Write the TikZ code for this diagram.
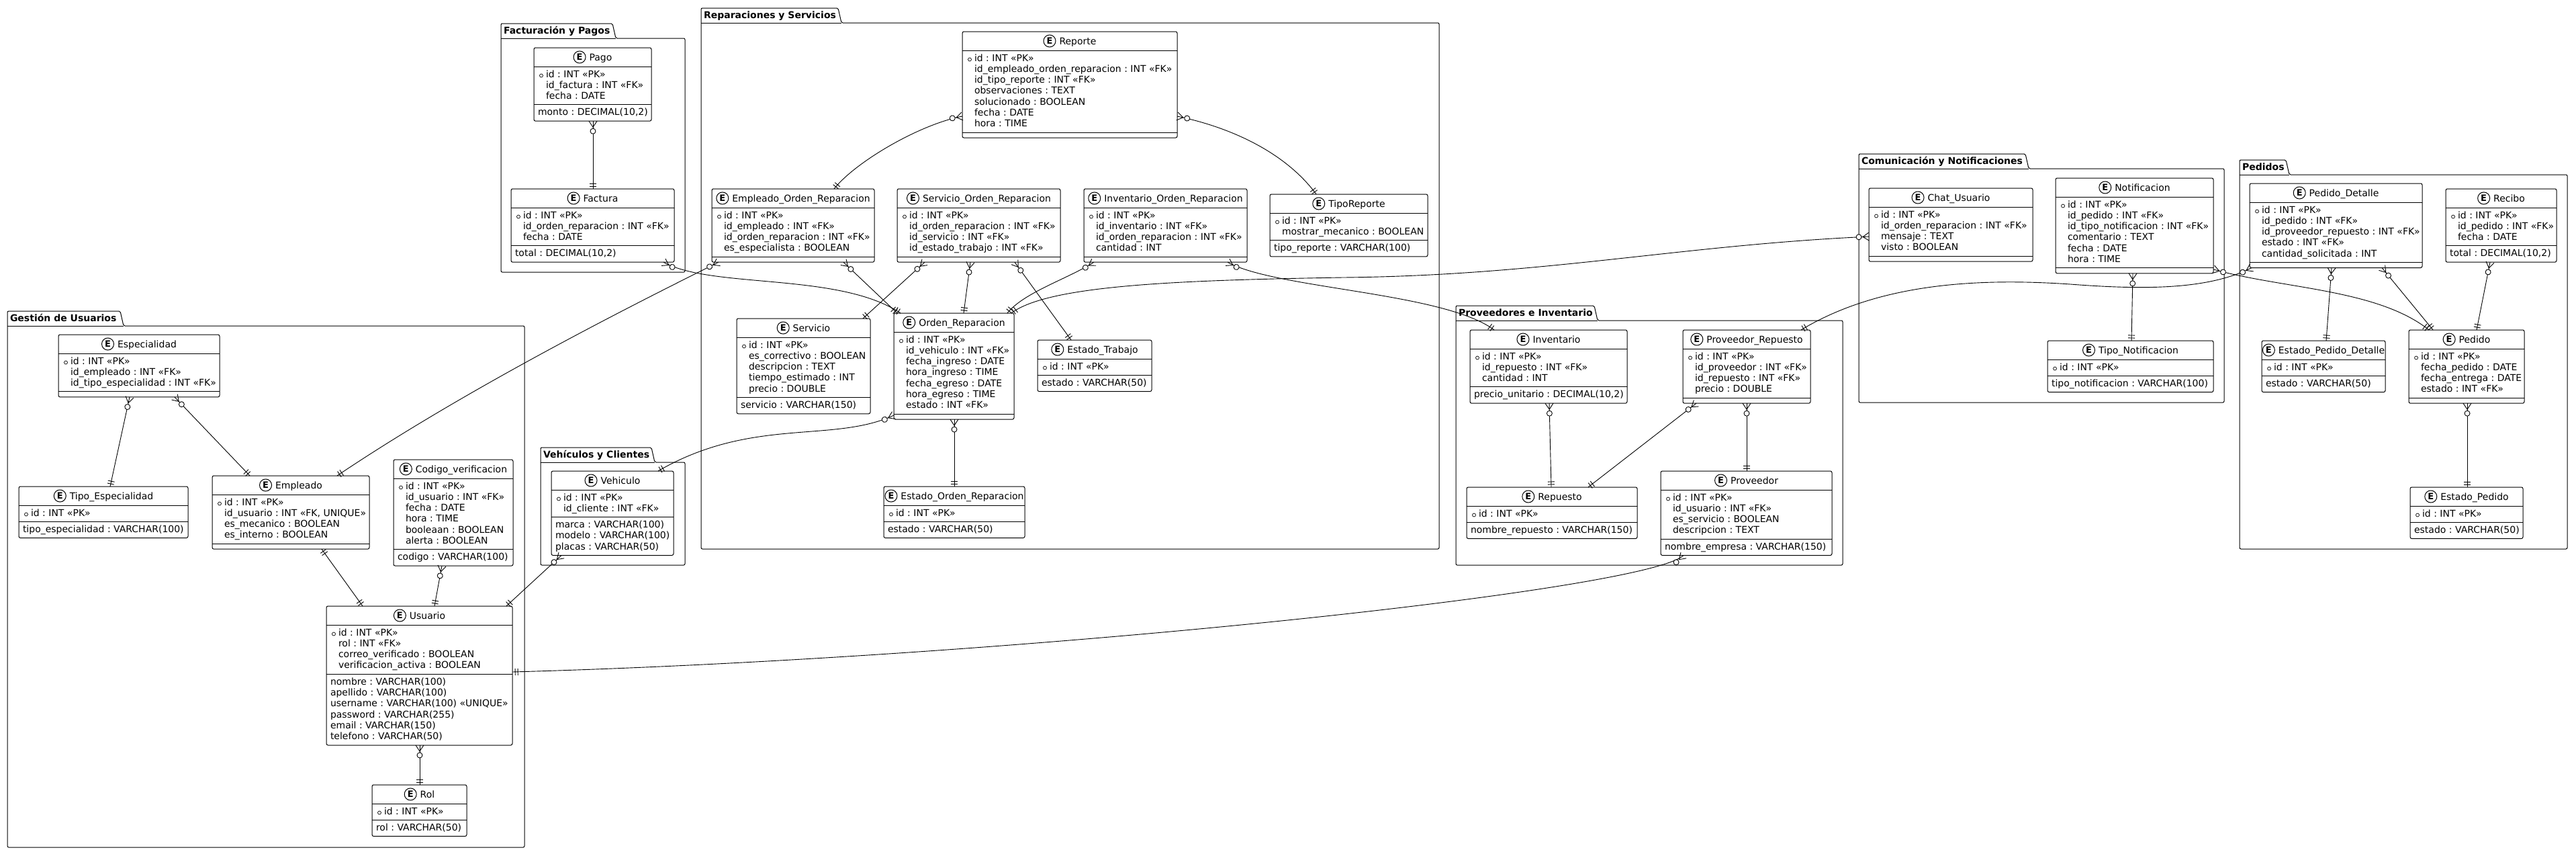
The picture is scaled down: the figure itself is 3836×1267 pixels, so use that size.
\documentclass[tikz,border=0pt]{standalone}
\usepackage{fontspec}
\setmainfont{DejaVu Sans}
\usetikzlibrary{decorations.markings}
\frenchspacing

\newcommand\eicon{\tikz[baseline=-5pt]{\draw[line width=1pt] (0pt,0pt) circle (9pt); \node[inner sep=0pt, font=\fontsize{13}{13}\selectfont\bfseries] at (0pt,0pt) {E};}}

\newcommand\pkgframe[7]{%
  \draw[pkg] (#2,#3) -- ({#6-5},#3) -- (#6,{#3+22}) -- (#4,{#3+22}) -- (#4,#5) -- (#2,#5) -- cycle;
  \draw (#2,{#3+22}) -- (#6,{#3+22});
  \node[anchor=base west, font=\fontsize{14}{16}\selectfont\bfseries] (#1) at ({#2+4},{#3+15}) {#7};
}

\newcommand\erbox[9]{%
  \pgfmathsetmacro\entA{36+#6*16.3}%
  \pgfmathsetmacro\entH{\entA+8+#8*16.3}%
  \node[entbox, minimum width=#4, minimum height=\entH, anchor=north west] (#1) at (#2,#3) {};
  \draw (#2,{#3+28}) -- ({#2+#4},{#3+28});
  \draw (#2,{#3+\entA}) -- ({#2+#4},{#3+\entA});
  \node (#1-t) at ({#2+#4/2},{#3+14}) {\eicon\hspace{5pt}#5};
  \draw[line width=.7pt] ({#2+11},{#3+41.5}) circle (2.5pt);
  \foreach \a [count=\i] in {#7}
    \node[anchor=base west] (#1-a\i) at ({#2+18},{#3+44+(\i-1)*16.3}) {\a};
  \ifnum#8>0
  \foreach \m [count=\i] in {#9}
    \node[anchor=base west] (#1-m\i) at ({#2+6},{#3+\entA+16+(\i-1)*16.3}) {\m};
  \fi
}

\begin{document}
\begin{tikzpicture}[x=1pt, y=-1pt, line width=1pt,
  font=\fontsize{14}{16.3}\selectfont,
  every node/.style={inner sep=0pt, outer sep=0pt},
  entbox/.style={draw, fill=white, rounded corners=2.5pt},
  pkg/.style={draw, rounded corners=2pt},
  rel/.style={draw, line width=.9pt, postaction={decorate, decoration={markings,
    mark=at position 0 with {\draw (0,-6) -- (9,0) -- (0,6); \draw[fill=white] (15,0) circle (4pt);},
    mark=at position 0.9999 with {\draw (-4,-5) -- (-4,5) (-8,-5) -- (-8,5);}}}},
  oneone/.style={draw, line width=.9pt, postaction={decorate, decoration={markings,
    mark=at position 0 with {\draw (4,-5) -- (4,5) (8,-5) -- (8,5);},
    mark=at position 0.9999 with {\draw (-4,-5) -- (-4,5) (-8,-5) -- (-8,5);}}}}]
\fill[white] (0,0) rectangle (3836,1267);
\useasboundingbox (0,0) rectangle (3836,1267);

\pkgframe{gestion}{11}{463}{781}{1261}{184}{Gestión de Usuarios}
\pkgframe{facturacion}{746}{35}{1020}{405}{917}{Facturación y Pagos}
\pkgframe{reparaciones}{1044}{12}{2143}{817}{1253}{Reparaciones y Servicios}
\pkgframe{vehiculos}{805}{666}{1020}{841}{975}{Vehículos y Clientes}
\pkgframe{proveedores}{2168}{455}{2744}{841}{2379}{Proveedores e Inventario}
\pkgframe{comunicacion}{2768}{229}{3312}{599}{3021}{Comunicación y Notificaciones}
\pkgframe{pedidos}{3335}{238}{3823}{817}{3409}{Pedidos}

\erbox{especialidad}{87}{498}{240}{Especialidad}{3}{id : INT «PK», id\_empleado : INT «FK», id\_tipo\_especialidad : INT «FK»}{0}{}
\erbox{tipoesp}{28}{724}{252}{Tipo\_Especialidad}{1}{id : INT «PK»}{1}{tipo\_especialidad : VARCHAR(100)}
\erbox{empleado}{316}{708}{234}{Empleado}{4}{id : INT «PK», {id\_usuario : INT «FK, UNIQUE»}, es\_mecanico : BOOLEAN, es\_interno : BOOLEAN}{0}{}
\erbox{codigo}{586}{684}{178}{Codigo\_verificacion}{6}{id : INT «PK», id\_usuario : INT «FK», fecha : DATE, hora : TIME, booleaan : BOOLEAN, alerta : BOOLEAN}{1}{codigo : VARCHAR(100)}
\erbox{usuario}{486}{902}{277}{Usuario}{4}{id : INT «PK», rol : INT «FK», correo\_verificado : BOOLEAN, verificacion\_activa : BOOLEAN}{6}{nombre : VARCHAR(100), apellido : VARCHAR(100), username : VARCHAR(100) «UNIQUE», password : VARCHAR(255), email : VARCHAR(150), telefono : VARCHAR(50)}
\erbox{rol}{554}{1168}{141}{Rol}{1}{id : INT «PK»}{1}{rol : VARCHAR(50)}
\erbox{pago}{795}{71}{175}{Pago}{3}{id : INT «PK», id\_factura : INT «FK», fecha : DATE}{1}{{monto : DECIMAL(10,2)}}
\erbox{factura}{761}{281}{243}{Factura}{3}{id : INT «PK», id\_orden\_reparacion : INT «FK», fecha : DATE}{1}{{total : DECIMAL(10,2)}}
\erbox{reporte}{1433}{47}{320}{Reporte}{7}{id : INT «PK», id\_empleado\_orden\_reparacion : INT «FK», id\_tipo\_reporte : INT «FK», observaciones : TEXT, solucionado : BOOLEAN, fecha : DATE, hora : TIME}{0}{}
\erbox{empord}{1060}{281}{242}{Empleado\_Orden\_Reparacion}{4}{id : INT «PK», id\_empleado : INT «FK», id\_orden\_reparacion : INT «FK», es\_especialista : BOOLEAN}{0}{}
\erbox{servord}{1336}{281}{243}{Servicio\_Orden\_Reparacion}{4}{id : INT «PK», id\_orden\_reparacion : INT «FK», id\_servicio : INT «FK», id\_estado\_trabajo : INT «FK»}{0}{}
\erbox{invord}{1614}{281}{243}{Inventario\_Orden\_Reparacion}{4}{id : INT «PK», id\_inventario : INT «FK», id\_orden\_reparacion : INT «FK», cantidad : INT}{0}{}
\erbox{tiporep}{1891}{289}{235}{TipoReporte}{2}{id : INT «PK», mostrar\_mecanico : BOOLEAN}{1}{tipo\_reporte : VARCHAR(100)}
\erbox{servicio}{1097}{474}{199}{Servicio}{5}{id : INT «PK», es\_correctivo : BOOLEAN, descripcion : TEXT, tiempo\_estimado : INT, precio : DOUBLE}{1}{servicio : VARCHAR(150)}
\erbox{orden}{1331}{466}{179}{Orden\_Reparacion}{7}{id : INT «PK», id\_vehiculo : INT «FK», fecha\_ingreso : DATE, hora\_ingreso : TIME, fecha\_egreso : DATE, hora\_egreso : TIME, estado : INT «FK»}{0}{}
\erbox{estrab}{1545}{506}{170}{Estado\_Trabajo}{1}{id : INT «PK»}{1}{estado : VARCHAR(50)}
\erbox{estord}{1316}{724}{210}{Estado\_Orden\_Reparacion}{1}{id : INT «PK»}{1}{estado : VARCHAR(50)}
\erbox{vehiculo}{821}{701}{182}{Vehiculo}{2}{id : INT «PK», id\_cliente : INT «FK»}{3}{marca : VARCHAR(100), modelo : VARCHAR(100), placas : VARCHAR(50)}
\erbox{inventario}{2189}{491}{234}{Inventario}{3}{id : INT «PK», id\_repuesto : INT «FK», cantidad : INT}{1}{{precio\_unitario : DECIMAL(10,2)}}
\erbox{provrep}{2506}{491}{190}{Proveedor\_Repuesto}{4}{id : INT «PK», id\_proveedor : INT «FK», id\_repuesto : INT «FK», precio : DOUBLE}{0}{}
\erbox{repuesto}{2184}{725}{254}{Repuesto}{1}{id : INT «PK»}{1}{nombre\_repuesto : VARCHAR(150)}
\erbox{proveedor}{2473}{701}{255}{Proveedor}{4}{id : INT «PK», id\_usuario : INT «FK», es\_servicio : BOOLEAN, descripcion : TEXT}{1}{nombre\_empresa : VARCHAR(150)}
\erbox{chat}{2783}{280}{244}{Chat\_Usuario}{4}{id : INT «PK», id\_orden\_reparacion : INT «FK», mensaje : TEXT, visto : BOOLEAN}{0}{}
\erbox{notificacion}{3061}{265}{235}{Notificacion}{6}{id : INT «PK», id\_pedido : INT «FK», id\_tipo\_notificacion : INT «FK», comentario : TEXT, fecha : DATE, hora : TIME}{0}{}
\erbox{tiponotif}{3049}{507}{247}{Tipo\_Notificacion}{1}{id : INT «PK»}{1}{tipo\_notificacion : VARCHAR(100)}
\erbox{peddet}{3350}{273}{257}{Pedido\_Detalle}{5}{id : INT «PK», id\_pedido : INT «FK», id\_proveedor\_repuesto : INT «FK», estado : INT «FK», cantidad\_solicitada : INT}{0}{}
\erbox{recibo}{3642}{281}{165}{Recibo}{3}{id : INT «PK», id\_pedido : INT «FK», fecha : DATE}{1}{{total : DECIMAL(10,2)}}
\erbox{estpeddet}{3368}{507}{184}{Estado\_Pedido\_Detalle}{1}{id : INT «PK»}{1}{estado : VARCHAR(50)}
\erbox{pedido}{3587}{491}{172}{Pedido}{4}{id : INT «PK», fecha\_pedido : DATE, fecha\_entrega : DATE, estado : INT «FK»}{0}{}
\erbox{estped}{3589}{725}{168}{Estado\_Pedido}{1}{id : INT «PK»}{1}{estado : VARCHAR(50)}

\draw[rel] ([xshift=106pt]especialidad.south west) -- ([xshift=136pt]tipoesp.north west);
\draw[rel] ([xshift=173pt]especialidad.south west) -- ([xshift=56pt]empleado.north west);
\draw[rel] ([xshift=10pt]empord.south west) .. controls (950,450) and (700,575) .. ([xshift=186pt]empleado.north west);
\draw[oneone] ([xshift=163pt]empleado.south west) -- ([xshift=54pt]usuario.north west);
\draw[rel] ([xshift=72pt]codigo.south west) -- ([xshift=161pt]usuario.north west);
\draw[rel] ([xshift=15pt]vehiculo.south west) -- ([xshift=268pt]usuario.north west);
\draw[rel] ([xshift=139pt]usuario.south west) -- ([xshift=71pt]rol.north west);
\draw[rel] ([xshift=34pt]proveedor.south west) .. controls (2450,880) and (1500,980) .. ([yshift=5.5pt]usuario.east);
\draw[rel] ([xshift=88pt]pago.south west) -- ([xshift=122pt]factura.north west);
\draw[rel] ([xshift=227pt]factura.south west) .. controls (1060,430) and (1250,405) .. ([xshift=10pt]orden.north west);
\draw[rel] ([yshift=6pt]orden.south west) .. controls (1240,660) and (1120,620) .. ([xshift=159pt]vehiculo.north west);
\draw[rel] ([xshift=196pt]empord.south west) -- ([xshift=5pt]orden.north west);
\draw[rel] ([yshift=-47pt]reporte.west) .. controls (1370,185) and (1275,240) .. ([xshift=182pt]empord.north west);
\draw[rel] ([yshift=-47pt]reporte.east) .. controls (1835,190) and (1915,228) .. ([xshift=69pt]tiporep.north west);
\draw[rel] ([xshift=41pt]servord.south west) -- ([xshift=188pt]servicio.north west);
\draw[rel] ([xshift=109pt]servord.south west) -- ([xshift=104pt]orden.north west);
\draw[rel] ([xshift=175pt]servord.south west) -- ([xshift=50pt]estrab.north west);
\draw[rel] ([xshift=15pt]invord.south west) .. controls (1590,415) and (1525,435) .. ([xshift=169pt]orden.north west);
\draw[rel] ([xshift=214pt]invord.south west) .. controls (1900,430) and (2150,435) .. ([xshift=36pt]inventario.north west);
\draw[rel] ([yshift=-17.5pt]chat.west) .. controls (2500,365) and (2300,410) .. (2000,413) .. controls (1750,417) and (1560,425) .. ([xshift=175pt]orden.north west);
\draw[rel] ([xshift=90pt]orden.south west) -- ([xshift=105pt]estord.north west);
\draw[rel] ([xshift=118pt]inventario.south west) -- ([xshift=126pt]repuesto.north west);
\draw[rel] ([xshift=20pt]provrep.south west) -- ([xshift=181pt]repuesto.north west);
\draw[rel] ([xshift=95pt]provrep.south west) -- ([xshift=128pt]proveedor.north west);
\draw[rel] ([xshift=3pt]peddet.south west) .. controls (3290,430) and (3200,432) .. (3083,423) .. controls (2950,414) and (2800,420) .. ([xshift=176pt]provrep.north west);
\draw[rel] ([yshift=-65pt]notificacion.east) .. controls (3400,430) and (3540,430) .. ([xshift=30pt]pedido.north west);
\draw[rel] ([xshift=115pt]notificacion.south west) -- ([xshift=125pt]tiponotif.north west);
\draw[rel] ([xshift=197pt]peddet.south west) -- ([xshift=36pt]pedido.north west);
\draw[rel] ([xshift=122pt]peddet.south west) -- ([xshift=96pt]estpeddet.north west);
\draw[rel] ([xshift=66pt]recibo.south west) -- ([xshift=101pt]pedido.north west);
\draw[rel] ([xshift=87pt]pedido.south west) -- ([xshift=85pt]estped.north west);
\end{tikzpicture}
\end{document}
